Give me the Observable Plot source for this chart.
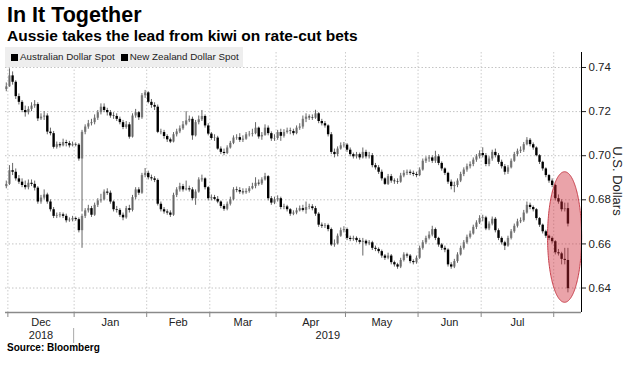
<!DOCTYPE html>
<html><head><meta charset="utf-8">
<script src="https://cdn.jsdelivr.net/npm/d3@7"></script>
<script src="https://cdn.jsdelivr.net/npm/@observablehq/plot@0.6"></script>
<style>
body{margin:0;background:#fff;width:633px;height:367px;overflow:hidden;position:relative;font-family:"Liberation Sans",Arial,sans-serif;color:#000;}
#title{position:absolute;left:7px;top:5px;font-size:21.5px;line-height:21px;font-weight:bold;white-space:nowrap;}
#subtitle{position:absolute;left:7px;top:28px;font-size:15.5px;line-height:15px;font-weight:bold;white-space:nowrap;}
#chart{position:absolute;left:0;top:45px;}
#legend{position:absolute;left:5px;top:47px;width:238px;height:20px;background:#eeeeee;font-size:9.8px;line-height:20px;white-space:nowrap;color:#222;}
#legend .sw{display:inline-block;width:7px;height:7px;background:#000;margin:0 2px 0 0;vertical-align:-0.5px;}
#legend .item{margin-left:6px;}
#ylabel{position:absolute;left:567px;top:173px;width:100px;height:16px;line-height:16px;text-align:center;font-size:13px;color:#222;transform:rotate(90deg);transform-origin:50% 50%;white-space:nowrap;}
#source{position:absolute;left:7px;top:342px;font-size:10px;line-height:12px;font-weight:bold;white-space:nowrap;}
</style></head>
<body>
<div id="title">In It Together</div>
<div id="subtitle">Aussie takes the lead from kiwi on rate-cut bets</div>
<div id="chart"></div>
<div id="legend"><span class="item"><span class="sw"></span>Australian Dollar Spot</span><span class="item"><span class="sw"></span>New Zealand Dollar Spot</span></div>
<div id="ylabel">U.S. Dollars</div>
<div id="source">Source: Bloomberg</div>
<script>
// ---- data (daily candles, weekdays from 2018-11-30 to 2019-08-07) ----
const seriesNames = ["Australian Dollar Spot", "New Zealand Dollar Spot"];
const firstDay = "2018-11-30";
const lastDay = "2019-08-07";
const monthLabels = ["Dec","Jan","Feb","Mar","Apr","May","Jun","Jul"];
const yearLabels = ["2018","2019"];
const yTicks = [0.64, 0.66, 0.68, 0.70, 0.72, 0.74];

const audOpen0 = 0.7300;
const audClose = [
0.7312,0.7362,0.7333,0.7268,0.7242,0.7205,0.7195,0.7210,0.7225,0.7232,
0.7167,0.7175,0.7180,0.7107,0.7100,0.7038,0.7050,0.7045,0.7060,0.7055,
0.7045,0.7050,0.7048,0.6985,0.7106,0.7130,0.7145,0.7150,0.7170,0.7195,
0.7220,0.7205,0.7195,0.7180,0.7178,0.7165,0.7150,0.7128,0.7140,0.7084,
0.7180,0.7195,0.7172,0.7272,0.7285,0.7242,0.7228,0.7220,0.7106,0.7105,
0.7087,0.7072,0.7062,0.7095,0.7108,0.7122,0.7140,0.7158,0.7165,0.7090,
0.7150,0.7163,0.7178,0.7135,0.7098,0.7078,0.7080,0.7030,0.7015,0.7010,
0.7035,0.7056,0.7080,0.7082,0.7070,0.7075,0.7095,0.7097,0.7100,0.7125,
0.7085,0.7092,0.7125,0.7100,0.7076,0.7078,0.7105,0.7088,0.7105,0.7112,
0.7110,0.7100,0.7125,0.7130,0.7165,0.7175,0.7172,0.7170,0.7190,0.7155,
0.7145,0.7135,0.7095,0.7015,0.7005,0.7030,0.7045,0.7048,0.7025,0.7005,
0.6995,0.7005,0.6990,0.7015,0.6995,0.7000,0.6955,0.6945,0.6925,0.6895,
0.6870,0.6905,0.6885,0.6882,0.6880,0.6908,0.6920,0.6925,0.6920,0.6915,
0.6910,0.6935,0.6975,0.6985,0.6990,0.6975,0.6995,0.6965,0.6940,0.6920,
0.6880,0.6860,0.6865,0.6885,0.6915,0.6935,0.6950,0.6960,0.6980,0.6995,
0.7010,0.7000,0.6960,0.6985,0.7015,0.7000,0.6970,0.6950,0.6925,0.6945,
0.6975,0.7005,0.7020,0.7025,0.7050,0.7070,0.7050,0.7035,0.7000,0.6970,
0.6940,0.6910,0.6885,0.6865,0.6805,0.6790,0.6755,0.6760,0.6690];
const audHigh = [
0.7330,0.7394,0.7380,0.7340,0.7280,0.7250,0.7225,0.7222,0.7240,0.7250,
0.7240,0.7190,0.7200,0.7190,0.7125,0.7110,0.7062,0.7060,0.7075,0.7070,
0.7065,0.7062,0.7058,0.7055,0.7115,0.7140,0.7160,0.7165,0.7185,0.7205,
0.7235,0.7235,0.7215,0.7205,0.7195,0.7190,0.7175,0.7160,0.7155,0.7150,
0.7190,0.7210,0.7200,0.7282,0.7296,0.7290,0.7255,0.7240,0.7230,0.7120,
0.7115,0.7095,0.7080,0.7105,0.7120,0.7135,0.7155,0.7200,0.7180,0.7175,
0.7160,0.7180,0.7205,0.7185,0.7145,0.7105,0.7095,0.7088,0.7040,0.7030,
0.7045,0.7065,0.7090,0.7095,0.7100,0.7090,0.7105,0.7110,0.7120,0.7150,
0.7130,0.7105,0.7140,0.7135,0.7108,0.7095,0.7115,0.7120,0.7118,0.7125,
0.7125,0.7120,0.7135,0.7145,0.7180,0.7190,0.7185,0.7185,0.7206,0.7195,
0.7165,0.7155,0.7140,0.7105,0.7030,0.7040,0.7058,0.7060,0.7055,0.7035,
0.7012,0.7015,0.7012,0.7035,0.7025,0.7015,0.7010,0.6965,0.6955,0.6935,
0.6900,0.6915,0.6915,0.6895,0.6895,0.6920,0.6932,0.6935,0.6935,0.6930,
0.6925,0.6945,0.6985,0.6995,0.7000,0.7000,0.7020,0.7005,0.6972,0.6945,
0.6925,0.6890,0.6880,0.6895,0.6925,0.6945,0.6962,0.6972,0.6990,0.7005,
0.7022,0.7036,0.7010,0.6995,0.7025,0.7030,0.7010,0.6980,0.6960,0.6955,
0.6985,0.7015,0.7030,0.7040,0.7060,0.7082,0.7078,0.7058,0.7040,0.7005,
0.6975,0.6945,0.6915,0.6895,0.6870,0.6822,0.6800,0.6785,0.6785];
const audLow = [
0.7290,0.7310,0.7320,0.7255,0.7230,0.7195,0.7175,0.7185,0.7200,0.7215,
0.7155,0.7160,0.7160,0.7095,0.7090,0.7030,0.7030,0.7035,0.7040,0.7040,
0.7035,0.7040,0.7040,0.6975,0.6745,0.7095,0.7120,0.7135,0.7140,0.7160,
0.7185,0.7195,0.7180,0.7170,0.7165,0.7155,0.7140,0.7118,0.7120,0.7075,
0.7080,0.7170,0.7160,0.7165,0.7260,0.7235,0.7215,0.7205,0.7100,0.7095,
0.7075,0.7060,0.7055,0.7058,0.7085,0.7100,0.7115,0.7135,0.7150,0.7070,
0.7085,0.7140,0.7155,0.7125,0.7090,0.7070,0.7065,0.7025,0.7005,0.7000,
0.7005,0.7030,0.7050,0.7070,0.7060,0.7060,0.7070,0.7085,0.7085,0.7095,
0.7075,0.7070,0.7088,0.7090,0.7065,0.7065,0.7070,0.7065,0.7080,0.7098,
0.7095,0.7090,0.7095,0.7115,0.7120,0.7150,0.7160,0.7160,0.7165,0.7145,
0.7135,0.7125,0.7085,0.7005,0.6990,0.6995,0.7025,0.7035,0.7015,0.6995,
0.6985,0.6985,0.6980,0.6985,0.6985,0.6985,0.6945,0.6935,0.6915,0.6885,
0.6865,0.6865,0.6875,0.6870,0.6870,0.6875,0.6900,0.6910,0.6910,0.6905,
0.6900,0.6905,0.6930,0.6965,0.6970,0.6965,0.6965,0.6955,0.6930,0.6910,
0.6870,0.6845,0.6832,0.6855,0.6878,0.6905,0.6925,0.6940,0.6950,0.6970,
0.6985,0.6990,0.6950,0.6950,0.6975,0.6990,0.6960,0.6940,0.6912,0.6915,
0.6940,0.6970,0.6995,0.7010,0.7015,0.7045,0.7040,0.7025,0.6995,0.6960,
0.6930,0.6900,0.6875,0.6855,0.6795,0.6780,0.6745,0.6745,0.6677];

const nzdOpen0 = 0.6860;
const nzdClose = [
0.6870,0.6932,0.6925,0.6895,0.6880,0.6865,0.6855,0.6875,0.6870,0.6853,
0.6790,0.6808,0.6822,0.6790,0.6755,0.6725,0.6728,0.6732,0.6725,0.6705,
0.6708,0.6715,0.6710,0.6660,0.6725,0.6750,0.6760,0.6730,0.6775,0.6795,
0.6800,0.6835,0.6830,0.6790,0.6755,0.6752,0.6730,0.6718,0.6760,0.6752,
0.6810,0.6845,0.6830,0.6910,0.6920,0.6900,0.6895,0.6888,0.6780,0.6755,
0.6745,0.6740,0.6730,0.6820,0.6845,0.6860,0.6845,0.6850,0.6845,0.6805,
0.6835,0.6890,0.6895,0.6855,0.6805,0.6810,0.6802,0.6790,0.6770,0.6757,
0.6780,0.6800,0.6845,0.6842,0.6835,0.6832,0.6838,0.6850,0.6860,0.6875,
0.6872,0.6890,0.6905,0.6805,0.6785,0.6800,0.6805,0.6765,0.6768,0.6755,
0.6735,0.6740,0.6750,0.6760,0.6752,0.6765,0.6768,0.6760,0.6735,0.6685,
0.6680,0.6683,0.6665,0.6595,0.6600,0.6635,0.6660,0.6665,0.6625,0.6620,
0.6625,0.6615,0.6607,0.6612,0.6600,0.6605,0.6580,0.6575,0.6565,0.6545,
0.6535,0.6545,0.6515,0.6505,0.6495,0.6525,0.6550,0.6545,0.6520,0.6515,
0.6535,0.6580,0.6605,0.6625,0.6640,0.6665,0.6625,0.6595,0.6580,0.6572,
0.6505,0.6495,0.6520,0.6550,0.6580,0.6605,0.6630,0.6645,0.6675,0.6695,
0.6715,0.6718,0.6668,0.6690,0.6712,0.6660,0.6625,0.6605,0.6590,0.6625,
0.6655,0.6680,0.6700,0.6705,0.6740,0.6775,0.6765,0.6755,0.6715,0.6685,
0.6655,0.6635,0.6625,0.6610,0.6560,0.6555,0.6530,0.6525,0.6397];
const nzdHigh = [
0.6885,0.6955,0.6965,0.6940,0.6910,0.6895,0.6885,0.6890,0.6890,0.6885,
0.6860,0.6820,0.6845,0.6830,0.6800,0.6765,0.6740,0.6742,0.6740,0.6735,
0.6718,0.6725,0.6722,0.6718,0.6735,0.6760,0.6775,0.6770,0.6785,0.6805,
0.6825,0.6845,0.6850,0.6840,0.6795,0.6770,0.6760,0.6740,0.6770,0.6775,
0.6820,0.6855,0.6855,0.6920,0.6942,0.6930,0.6912,0.6905,0.6895,0.6790,
0.6765,0.6755,0.6750,0.6830,0.6855,0.6875,0.6870,0.6885,0.6862,0.6855,
0.6845,0.6900,0.6912,0.6900,0.6860,0.6822,0.6820,0.6815,0.6795,0.6778,
0.6790,0.6812,0.6855,0.6858,0.6855,0.6850,0.6850,0.6860,0.6875,0.6900,
0.6890,0.6900,0.6920,0.6910,0.6815,0.6812,0.6818,0.6812,0.6780,0.6775,
0.6760,0.6750,0.6762,0.6772,0.6775,0.6790,0.6780,0.6778,0.6770,0.6742,
0.6695,0.6692,0.6690,0.6672,0.6618,0.6645,0.6672,0.6678,0.6672,0.6635,
0.6635,0.6632,0.6625,0.6625,0.6618,0.6615,0.6612,0.6590,0.6582,0.6572,
0.6552,0.6558,0.6552,0.6522,0.6512,0.6535,0.6560,0.6558,0.6552,0.6528,
0.6545,0.6590,0.6615,0.6635,0.6655,0.6680,0.6672,0.6630,0.6602,0.6590,
0.6578,0.6515,0.6530,0.6560,0.6590,0.6615,0.6640,0.6658,0.6685,0.6705,
0.6728,0.6730,0.6725,0.6700,0.6722,0.6720,0.6668,0.6632,0.6612,0.6635,
0.6665,0.6690,0.6712,0.6718,0.6752,0.6790,0.6785,0.6772,0.6760,0.6720,
0.6690,0.6662,0.6640,0.6632,0.6615,0.6575,0.6562,0.6580,0.6580];
const nzdLow = [
0.6850,0.6865,0.6910,0.6885,0.6870,0.6855,0.6845,0.6845,0.6860,0.6840,
0.6780,0.6780,0.6800,0.6780,0.6745,0.6715,0.6715,0.6718,0.6715,0.6695,
0.6698,0.6700,0.6702,0.6650,0.6580,0.6715,0.6740,0.6720,0.6725,0.6765,
0.6785,0.6795,0.6820,0.6780,0.6745,0.6740,0.6720,0.6705,0.6712,0.6740,
0.6745,0.6800,0.6820,0.6825,0.6900,0.6890,0.6885,0.6878,0.6772,0.6745,
0.6735,0.6730,0.6720,0.6725,0.6810,0.6835,0.6835,0.6840,0.6835,0.6795,
0.6775,0.6830,0.6880,0.6845,0.6795,0.6795,0.6795,0.6782,0.6760,0.6748,
0.6750,0.6772,0.6795,0.6832,0.6825,0.6822,0.6825,0.6830,0.6845,0.6850,
0.6862,0.6865,0.6885,0.6795,0.6775,0.6778,0.6790,0.6755,0.6755,0.6745,
0.6725,0.6728,0.6732,0.6745,0.6745,0.6735,0.6755,0.6750,0.6725,0.6675,
0.6670,0.6670,0.6655,0.6588,0.6585,0.6595,0.6630,0.6650,0.6615,0.6610,
0.6612,0.6605,0.6598,0.6545,0.6590,0.6592,0.6570,0.6565,0.6555,0.6535,
0.6525,0.6528,0.6505,0.6495,0.6485,0.6488,0.6518,0.6535,0.6510,0.6505,
0.6508,0.6530,0.6572,0.6598,0.6618,0.6632,0.6615,0.6585,0.6570,0.6560,
0.6495,0.6485,0.6488,0.6512,0.6545,0.6572,0.6598,0.6622,0.6640,0.6665,
0.6688,0.6700,0.6660,0.6660,0.6682,0.6650,0.6615,0.6595,0.6570,0.6585,
0.6618,0.6648,0.6672,0.6692,0.6698,0.6735,0.6755,0.6745,0.6705,0.6675,
0.6645,0.6625,0.6615,0.6600,0.6550,0.6545,0.6505,0.6505,0.6378];

// highlight annotation (ellipse around last days), in data units
const highlight = {centerIndex: 177.1, centerValue: 0.6629, radiusIndex: 5.4, radiusValue: 0.0296};

// ---- build ----
const days = d3.utcDays(new Date(firstDay), d3.utcDay.offset(new Date(lastDay), 1))
  .filter(d => d.getUTCDay() !== 0 && d.getUTCDay() !== 6);

function candles(name, open0, close, high, low) {
  return close.map((c, i) => ({
    series: name, i, date: days[i],
    o: i === 0 ? open0 : close[i - 1], c, h: high[i], l: low[i]
  }));
}
const rows = candles(seriesNames[0], audOpen0, audClose, audHigh, audLow)
  .concat(candles(seriesNames[1], nzdOpen0, nzdClose, nzdHigh, nzdLow));
const up = rows.filter(d => d.c >= d.o);
const down = rows.filter(d => d.c < d.o);

// month boundaries (between last weekday of a month and first of the next)
const boundaries = [];
for (let i = 1; i < days.length; i++) {
  if (days[i].getUTCMonth() !== days[i - 1].getUTCMonth()) boundaries.push(i - 0.5);
}
const xDomain = [-0.25, 182.3];
const yDomain = [0.6289, 0.7468];
const monthText = monthLabels.map((m, k) => ({label: m, x: (boundaries[k] + boundaries[k + 1]) / 2}));
const yearText = [
  {label: yearLabels[0], x: monthText[0].x},
  {label: yearLabels[1], x: (boundaries[1] + xDomain[1]) / 2}
];

const ell = d3.range(0, 121).map(k => {
  const t = Math.PI - Math.PI * k / 120;
  return {
    x: highlight.centerIndex + highlight.radiusIndex * Math.cos(t),
    y1: highlight.centerValue - highlight.radiusValue * Math.sin(t),
    y2: highlight.centerValue + highlight.radiusValue * Math.sin(t)
  };
});

const chart = Plot.plot({
  width: 633, height: 300,
  marginTop: 7, marginBottom: 33, marginLeft: 5, marginRight: 52,
  style: {fontFamily: "Liberation Sans, Arial, sans-serif", fontSize: "11px", color: "#222", background: "transparent", overflow: "visible"},
  x: {type: "linear", domain: xDomain},
  y: {domain: yDomain},
  marks: [
    Plot.ruleY(yTicks, {stroke: "#c4c4c4", strokeDasharray: "1.5,2"}),
    Plot.ruleX(boundaries, {stroke: "#cccccc", strokeDasharray: "1.5,2"}),
    Plot.ruleX(up, {x: "i", y1: "o", y2: "c", stroke: "#8f8f8f", strokeWidth: 2.4}),
    Plot.ruleX(rows, {x: "i", y1: "l", y2: "h", stroke: "#666", strokeWidth: 1}),
    Plot.ruleX(down, {x: "i", y1: "o", y2: "c", stroke: "#000", strokeWidth: 2.4}),
    Plot.areaY(ell, {x: "x", y1: "y1", y2: "y2", fill: "rgb(205,35,50)", fillOpacity: 0.42, stroke: "#c8404c", strokeWidth: 1}),
    Plot.ruleY([yDomain[0]], {stroke: "#8a8a8a", strokeWidth: 1.5}),
    Plot.ruleX([xDomain[1]], {stroke: "#000", strokeWidth: 1}),
    Plot.axisX({ticks: boundaries, tickSize: 5, tickFormat: () => "", stroke: "#8a8a8a", label: null}),
    Plot.axisY({anchor: "right", ticks: yTicks, tickSize: 4, tickPadding: 3, tickFormat: d3.format(".2f"), label: null, fontSize: 11.5}),
    Plot.text(monthText, {x: "x", text: "label", frameAnchor: "bottom", lineAnchor: "middle", dy: 10, fontSize: 11}),
    Plot.text(yearText, {x: "x", text: "label", frameAnchor: "bottom", lineAnchor: "middle", dy: 23, fontSize: 11})
  ]
});
document.getElementById("chart").appendChild(chart);

// year separator below the axis at the Jan boundary
const sx = chart.scale("x").apply(boundaries[1]);
d3.select(chart).append("line")
  .attr("x1", sx).attr("x2", sx).attr("y1", 283).attr("y2", 298)
  .attr("stroke", "#aaa").attr("stroke-width", 1);
</script>
</body></html>
